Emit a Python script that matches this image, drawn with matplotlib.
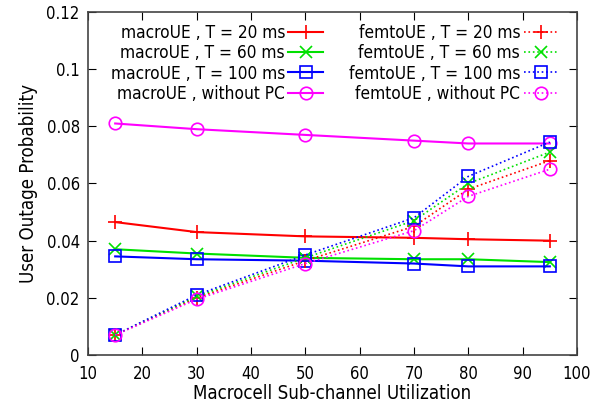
import matplotlib
matplotlib.use('Agg')
import matplotlib.pyplot as plt

plt.rcParams['font.family'] = ['DejaVu Sans']
plt.rcParams['font.stretch'] = 'condensed'

# Sub-channel utilization values
x = [15, 30, 50, 70, 80, 95]

# Outage probabilities for macro users
macro_t20 = [0.0465, 0.043, 0.0415, 0.041, 0.0405, 0.040]
macro_t60 = [0.037, 0.0355, 0.034, 0.0335, 0.0335, 0.0325]
macro_t100 = [0.0345, 0.0335, 0.033, 0.032, 0.031, 0.031]
macro_nopc = [0.081, 0.079, 0.077, 0.075, 0.074, 0.074]

# Outage probabilities for femto users
femto_t20 = [0.007, 0.020, 0.033, 0.045, 0.058, 0.068]
femto_t60 = [0.007, 0.0205, 0.034, 0.047, 0.060, 0.071]
femto_t100 = [0.007, 0.021, 0.035, 0.048, 0.0625, 0.0745]
femto_nopc = [0.007, 0.0195, 0.032, 0.0435, 0.0555, 0.065]

x_ticks = [10, 20, 30, 40, 50, 60, 70, 80, 90, 100]
y_ticks = [0, 0.02, 0.04, 0.06, 0.08, 0.1, 0.12]
y_labels = ['0', '0.02', '0.04', '0.06', '0.08', '0.1', '0.12']

fig = plt.figure(figsize=(6, 4.19), dpi=100)
ax = fig.add_axes([88 / 600, 64 / 419, 489 / 600, 343 / 419])

red, green, blue, mag = '#ff0000', '#00e000', '#0000ff', '#ff00ff'
ms = 9

ax.plot(x, macro_t20, '-', color=red, marker='+', ms=ms + 1, mew=1.2, lw=1.5,
        label='macroUE , T = 20 ms')
ax.plot(x, macro_t60, '-', color=green, marker='x', ms=ms - 1, mew=1.2, lw=1.5,
        label='macroUE , T = 60 ms')
ax.plot(x, macro_t100, '-', color=blue, marker='s', ms=ms - 1, mew=1.2, lw=1.5,
        mfc='none', label='macroUE , T = 100 ms')
ax.plot(x, macro_nopc, '-', color=mag, marker='o', ms=ms, mew=1.2, lw=1.5,
        mfc='none', label='macroUE , without PC')

ax.plot(x, femto_t20, ':', color=red, marker='+', ms=ms + 1, mew=1.2, lw=1.2,
        label='femtoUE , T = 20 ms')
ax.plot(x, femto_t60, ':', color=green, marker='x', ms=ms - 1, mew=1.2, lw=1.2,
        label='femtoUE , T = 60 ms')
ax.plot(x, femto_t100, ':', color=blue, marker='s', ms=ms - 1, mew=1.2, lw=1.2,
        mfc='none', label='femtoUE , T = 100 ms')
ax.plot(x, femto_nopc, ':', color=mag, marker='o', ms=ms, mew=1.2, lw=1.2,
        mfc='none', label='femtoUE , without PC')

ax.set_xlim(10, 100)
ax.set_ylim(0, 0.12)
ax.set_xticks(x_ticks)
ax.set_yticks(y_ticks)
ax.set_yticklabels(y_labels)
ax.tick_params(direction='in', top=True, right=True, length=6, labelsize=12)
ax.tick_params(axis='x', pad=7)
ax.tick_params(axis='y', pad=6)
for s in ax.spines.values():
    s.set_linewidth(1.2)
    s.set_color('#444444')

ax.set_xlabel('Macrocell Sub-channel Utilization', fontsize=13.4, labelpad=1)
ax.set_ylabel('User Outage Probability', fontsize=13.4, labelpad=6)

ax.legend(ncol=2, loc='upper right', bbox_to_anchor=(0.9755, 0.985),
          markerfirst=False, frameon=False,
          fontsize=12.4, handlelength=2.0, handletextpad=0.2, columnspacing=1.5,
          labelspacing=0.13, borderaxespad=0.0)

plt.savefig('out.png', dpi=100)
